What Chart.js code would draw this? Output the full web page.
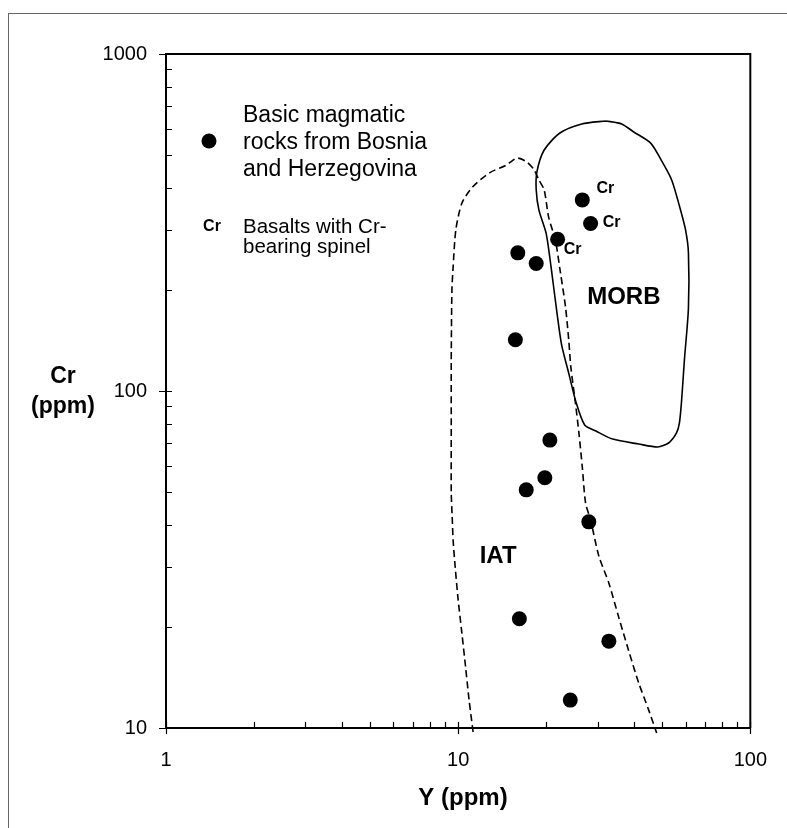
<!DOCTYPE html>
<html>
<head>
<meta charset="utf-8">
<script src="https://cdn.jsdelivr.net/npm/chart.js@4.4.0/dist/chart.umd.min.js"></script>
<style>
  html, body { margin: 0; padding: 0; background: #fff; overflow: hidden; }
  #wrap { position: relative; width: 787px; height: 828px; overflow: hidden; }
  #frame { position: absolute; left: 8px; top: 13px; width: 800px; height: 840px;
           border-left: 1px solid #666; border-top: 1px solid #666; }
  #chart { position: absolute; left: 0; top: 0; }
</style>
</head>
<body>
<div id="wrap">
  <div id="frame"></div>
  <canvas id="chart" width="787" height="828"></canvas>
</div>
<script>
// samples: Y (ppm) vs Cr (ppm)
const sampleY  = [16.0, 18.5, 15.7, 26.6, 28.4, 21.9, 20.6, 19.8, 17.1, 28.0, 16.2, 32.8, 24.2];
const sampleCr = [257, 239, 142, 369, 314, 282, 71.5, 55.3, 50.9, 40.9, 21.1, 18.1, 12.1];
// samples that are basalts with Cr-bearing spinel (index into the arrays above)
const spinelIdx = [3, 4, 5];

// MORB field outline (closed)
const morbY  = [32.0, 36.3, 39.9, 45.6, 49.7, 53.8, 57.2, 60.0, 61.4, 61.4, 59.5, 58.2, 57.2, 55.9,
                52.5, 48.2, 41.5, 33.8, 29.6, 27.1, 25.3, 23.9, 22.6, 21.8, 20.8, 20.0, 18.9, 18.5,
                18.6, 19.7, 22.3, 26.5, 32.0];
const morbCr = [633, 620, 587, 544, 482, 423, 354, 301, 257, 176, 124, 94.0, 80.4, 75.1,
                70.1, 68.2, 69.6, 72.0, 76.1, 79.3, 92.8, 113, 137, 170, 233, 294, 344, 395,
                447, 519, 583, 620, 633];

// IAT field outline (open, dashed)
const iatY  = [11.25, 10.9, 10.6, 10.3, 10.0, 9.77, 9.61, 9.54, 9.47, 9.47, 9.47, 9.52, 9.61, 9.82,
               10.3, 11.2, 12.8, 14.6, 15.9, 17.2, 18.2, 18.9, 19.7, 20.4, 21.5, 22.4, 23.3, 23.9,
               24.3, 25.2, 25.9, 26.6, 27.3, 28.4, 30.3, 32.8, 35.4, 38.3, 41.5, 44.9, 47.8];
const iatCr = [9.73, 12.1, 15.2, 19.1, 24.0, 30.0, 36.1, 42.3, 49.8, 78.2, 124, 199, 233, 301,
               361, 403, 444, 468, 491, 478, 453, 423, 395, 328, 281, 224, 178, 142,
               118, 92.1, 75.1, 59.5, 46.5, 41.4, 32.4, 26.9, 21.4, 17.0, 13.6, 11.3, 9.66];

const yTickVals  = [1, 10, 100];
const crTickVals = [10, 100, 1000];

// field labels (data coords)
const fieldNames = ['MORB', 'IAT'];
const fieldLabelY  = [36.9, 13.7];
const fieldLabelCr = [190, 32.4];

const FONT = '"Liberation Sans", Arial, sans-serif';
const pts = (xs, ys) => xs.map((x, i) => ({ x: x, y: ys[i] }));

const decorPlugin = {
  id: 'decor',
  afterDraw(chart) {
    const ctx = chart.ctx;
    const a = chart.chartArea;
    const sx = chart.scales.x, sy = chart.scales.y;
    ctx.save();
    ctx.strokeStyle = '#000';
    ctx.fillStyle = '#000';

    // plot box top + right
    ctx.lineWidth = 2;
    ctx.beginPath();
    ctx.moveTo(a.left, a.top); ctx.lineTo(a.right, a.top); ctx.lineTo(a.right, a.bottom);
    ctx.stroke();

    // tick marks
    ctx.lineWidth = 1.2;
    ctx.beginPath();
    [1, 10].forEach(d => {
      for (let m = 2; m <= 9; m++) {
        const px = Math.round(sx.getPixelForValue(m * d)) + 0.5;
        ctx.moveTo(px, a.bottom); ctx.lineTo(px, a.bottom - 6);
      }
    });
    yTickVals.forEach(v => {
      const px = Math.round(sx.getPixelForValue(v)) + 0.5;
      ctx.moveTo(px, a.bottom - 6); ctx.lineTo(px, a.bottom + 6);
    });
    [10, 100].forEach(d => {
      for (let m = 2; m <= 9; m++) {
        const py = Math.round(sy.getPixelForValue(m * d)) + 0.5;
        ctx.moveTo(a.left, py); ctx.lineTo(a.left + 6, py);
      }
    });
    crTickVals.forEach(v => {
      const py = Math.round(sy.getPixelForValue(v)) + 0.5;
      ctx.moveTo(a.left - 7, py); ctx.lineTo(a.left + 6, py);
    });
    ctx.stroke();

    // axis titles
    ctx.textBaseline = 'middle';
    ctx.textAlign = 'center';
    ctx.font = 'bold 23px ' + FONT;
    ctx.fillText('Cr', 63, 377);
    ctx.fillText('(ppm)', 63, 407);
    ctx.font = 'bold 24px ' + FONT;
    ctx.fillText('Y (ppm)', 463, 798);

    // field labels
    ctx.font = 'bold 24px ' + FONT;
    fieldNames.forEach((n, i) => {
      ctx.fillText(n, sx.getPixelForValue(fieldLabelY[i]), sy.getPixelForValue(fieldLabelCr[i]));
    });

    // Cr labels beside spinel-bearing basalts
    const offs = [[23, -11], [21, -1], [15, 10]];
    ctx.font = 'bold 16px ' + FONT;
    spinelIdx.forEach((k, i) => {
      ctx.fillText('Cr', sx.getPixelForValue(sampleY[k]) + offs[i][0], sy.getPixelForValue(sampleCr[k]) + offs[i][1]);
    });

    // legend
    ctx.beginPath();
    ctx.arc(209, 141, 7.5, 0, Math.PI * 2);
    ctx.fill();
    ctx.textAlign = 'left';
    ctx.font = '23px ' + FONT;
    ctx.fillText('Basic magmatic', 243, 116);
    ctx.fillText('rocks from Bosnia', 243, 143);
    ctx.fillText('and Herzegovina', 243, 170);
    ctx.font = 'bold 16px ' + FONT;
    ctx.textAlign = 'center';
    ctx.fillText('Cr', 212, 227);
    ctx.textAlign = 'left';
    ctx.font = '20.5px ' + FONT;
    ctx.fillText('Basalts with Cr-', 243, 227);
    ctx.fillText('bearing spinel', 243, 247);
    ctx.restore();
  }
};

new Chart(document.getElementById('chart').getContext('2d'), {
  type: 'scatter',
  data: {
    datasets: [
      {
        label: 'Basic magmatic rocks from Bosnia and Herzegovina',
        data: pts(sampleY, sampleCr),
        pointRadius: 7.5,
        pointBackgroundColor: '#000',
        pointBorderWidth: 0,
        showLine: false
      },
      {
        label: 'MORB',
        data: pts(morbY, morbCr),
        showLine: true,
        borderColor: '#000',
        borderWidth: 1.6,
        pointRadius: 0,
        tension: 0.25
      },
      {
        label: 'IAT',
        data: pts(iatY, iatCr),
        showLine: true,
        borderColor: '#000',
        borderWidth: 1.6,
        borderDash: [7, 4],
        pointRadius: 0,
        tension: 0.25,
        clip: false
      }
    ]
  },
  options: {
    responsive: false,
    animation: false,
    layout: { padding: { top: 54, right: 35, left: 0, bottom: 0 } },
    plugins: { legend: { display: false }, tooltip: { enabled: false } },
    scales: {
      x: {
        type: 'logarithmic',
        min: 1, max: 100,
        afterFit: s => { s.height = 100; },
        afterBuildTicks: s => { s.ticks = yTickVals.map(v => ({ value: v })); },
        grid: { display: false, drawTicks: false },
        border: { display: true, color: '#000', width: 2 },
        ticks: {
          color: '#000', padding: 20, maxRotation: 0, autoSkip: false,
          font: { family: FONT, size: 20 },
          callback: v => String(v)
        }
      },
      y: {
        type: 'logarithmic',
        min: 10, max: 1000,
        afterFit: s => { s.width = 166; },
        afterBuildTicks: s => { s.ticks = crTickVals.map(v => ({ value: v })); },
        grid: { display: false, drawTicks: false },
        border: { display: true, color: '#000', width: 2 },
        ticks: {
          color: '#000', padding: 19, autoSkip: false,
          font: { family: FONT, size: 20 },
          callback: v => String(v)
        }
      }
    }
  },
  plugins: [decorPlugin]
});
</script>
</body>
</html>
